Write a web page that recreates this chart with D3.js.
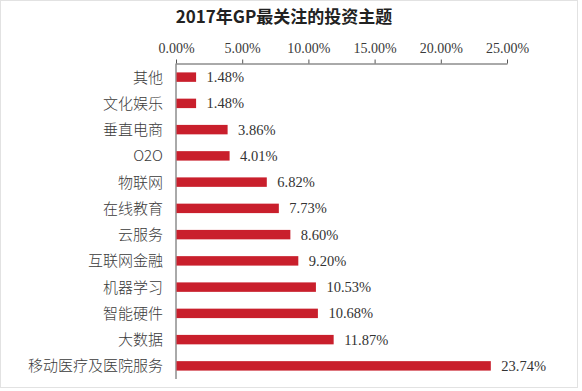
<!DOCTYPE html>
<html>
<head>
<meta charset="utf-8">
<script src="https://cdn.jsdelivr.net/npm/d3@7/dist/d3.min.js"></script>
<style>
  html, body { margin: 0; padding: 0; background: #fff; }
  svg { display: block; }
</style>
</head>
<body>
<svg id="chart" width="582" height="391"></svg>
<script>
const title = "2017年GP最关注的投资主题";
const categories = ["其他", "文化娱乐", "垂直电商", "O2O", "物联网", "在线教育", "云服务", "互联网金融", "机器学习", "智能硬件", "大数据", "移动医疗及医院服务"];
const values = [1.48, 1.48, 3.86, 4.01, 6.82, 7.73, 8.60, 9.20, 10.53, 10.68, 11.87, 23.74];
const tickValues = [0, 5, 10, 15, 20, 25];

const svg = d3.select("#chart");
const serif = "'Liberation Serif', 'Times New Roman', 'Noto Sans CJK SC', serif";
const cjk = "'Noto Sans CJK SC', 'Liberation Serif', serif";

// frame
svg.append("rect")
  .attr("x", 0.5).attr("y", 0.5).attr("width", 577).attr("height", 387)
  .attr("fill", "none").attr("stroke", "#e2e2e2").attr("stroke-width", 1);

// title
svg.append("text")
  .attr("x", 284).attr("y", 23)
  .attr("text-anchor", "middle")
  .attr("font-family", "'Noto Sans CJK SC', sans-serif")
  .attr("font-weight", "bold")
  .attr("font-size", 17)
  .attr("fill", "#222")
  .text(title);

const x = d3.scaleLinear().domain([0, 25]).range([176, 507]);
const y = d3.scaleBand().domain(categories).range([64, 379])
  .paddingInner(0.64).paddingOuter(0.32);

// top axis
const xAxis = d3.axisTop(x).tickValues(tickValues).tickSize(4).tickSizeOuter(0)
  .tickFormat(d => d3.format(".2f")(d) + "%");
const gx = svg.append("g").attr("transform", "translate(0,63.5)").call(xAxis);
gx.select(".domain").attr("stroke", "#555");
gx.selectAll(".tick line").attr("stroke", "#555");
gx.selectAll(".tick text")
  .attr("font-family", serif).attr("font-size", 14).attr("fill", "#3a3a3a").attr("dy", "-0.25em");

// left axis line
svg.append("line")
  .attr("x1", x(0)).attr("x2", x(0))
  .attr("y1", 63.5).attr("y2", 379)
  .attr("stroke", "#555").attr("stroke-width", 1);

// bars
svg.append("g").selectAll("rect")
  .data(values)
  .join("rect")
  .attr("x", x(0) + 0.5)
  .attr("y", (d, i) => y(categories[i]))
  .attr("width", d => x(d) - x(0))
  .attr("height", y.bandwidth())
  .attr("fill", "#c91f2c");

// value labels
svg.append("g").selectAll("text")
  .data(values)
  .join("text")
  .attr("x", d => x(d) + 11)
  .attr("y", (d, i) => y(categories[i]) + y.bandwidth() / 2)
  .attr("dy", "0.35em")
  .attr("font-family", serif)
  .attr("font-size", 14.5)
  .attr("fill", "#333")
  .text(d => d.toFixed(2) + "%");

// category labels
svg.append("g").selectAll("text")
  .data(categories)
  .join("text")
  .attr("x", x(0) - 13)
  .attr("y", d => y(d) + y.bandwidth() / 2)
  .attr("dy", "0.36em")
  .attr("text-anchor", "end")
  .attr("font-family", cjk)
  .attr("font-weight", 300)
  .attr("font-size", 15)
  .attr("fill", "#3a3a3a")
  .text(d => d);
</script>
</body>
</html>
